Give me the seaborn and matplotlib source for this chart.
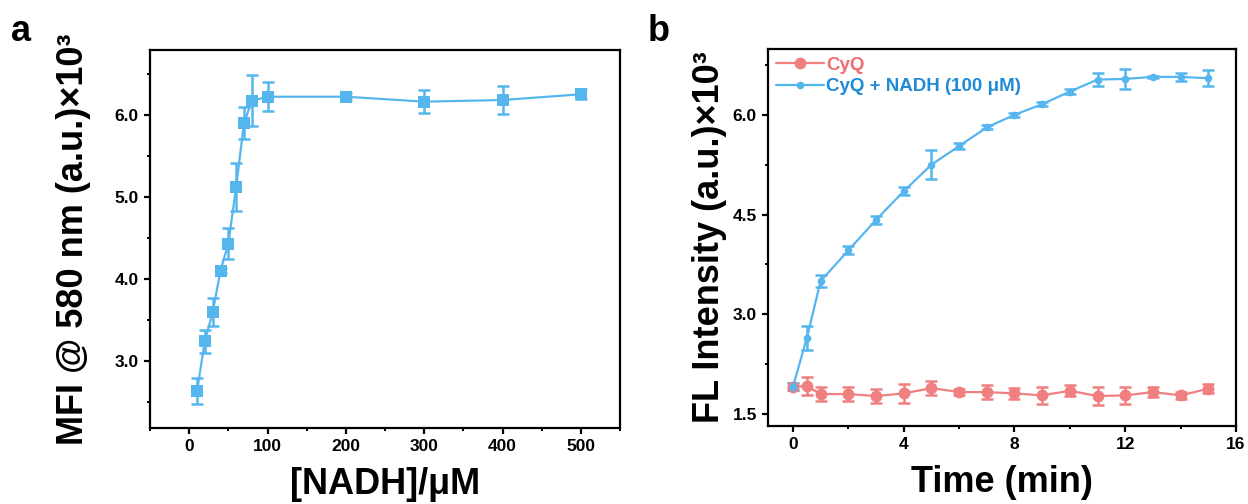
import numpy as np
import pandas as pd
import matplotlib
matplotlib.use("Agg")
import matplotlib.pyplot as plt
from matplotlib.ticker import MultipleLocator, FormatStrFormatter
import seaborn as sns

# Panel a: MFI vs NADH concentration
nadh_conc = [10, 20, 30, 40, 50, 60, 70, 80, 100, 200, 300, 400, 500]
mfi_mean = [2.63, 3.24, 3.59, 4.10, 4.43, 5.12, 5.90, 6.17, 6.22, 6.22, 6.16, 6.18, 6.25]
mfi_err = [0.16, 0.14, 0.17, 0.03, 0.19, 0.29, 0.20, 0.31, 0.18, 0.04, 0.14, 0.17, 0.06]

# Panel b: fluorescence kinetics
time_min = [0, 0.5, 1, 2, 3, 4, 5, 6, 7, 8, 9, 10, 11, 12, 13, 14, 15]
cyq_mean = [1.91, 1.92, 1.80, 1.80, 1.77, 1.81, 1.89, 1.83, 1.83, 1.81, 1.78,
            1.85, 1.77, 1.78, 1.83, 1.78, 1.88]
cyq_err = [0.05, 0.14, 0.10, 0.10, 0.10, 0.14, 0.11, 0.05, 0.10, 0.08, 0.13,
           0.08, 0.13, 0.13, 0.07, 0.05, 0.07]
nadh_mean = [1.91, 2.64, 3.50, 3.96, 4.42, 4.85, 5.25, 5.53, 5.81, 6.00, 6.16,
             6.35, 6.53, 6.54, 6.57, 6.57, 6.55]
nadh_err = [0.05, 0.18, 0.09, 0.06, 0.06, 0.06, 0.22, 0.04, 0.03, 0.03, 0.03,
            0.04, 0.10, 0.15, 0.02, 0.06, 0.12]
series_labels = ["CyQ", "CyQ + NADH (100 μM)"]

BLUE = "#55b6ee"
BLUE_TEXT = "#1f8ad6"
PINK = "#f08080"
PINK_TEXT = "#ee6e6e"

sns.set_theme(style="ticks")
plt.rcParams["font.family"] = ["Liberation Sans", "DejaVu Sans"]
plt.rcParams.update({
    "font.weight": "bold",
    "axes.labelweight": "bold",
    "text.color": "black",
    "axes.labelcolor": "black",
    "axes.edgecolor": "black",
    "axes.linewidth": 1.6,
    "xtick.color": "black",
    "ytick.color": "black",
    "xtick.major.width": 1.6,
    "ytick.major.width": 1.6,
    "xtick.minor.width": 1.4,
    "ytick.minor.width": 1.4,
    "xtick.major.size": 4.5,
    "ytick.major.size": 4.5,
    "xtick.minor.size": 2.5,
    "ytick.minor.size": 2.5,
    "xtick.direction": "out",
    "ytick.direction": "out",
})

fig = plt.figure(figsize=(12.48, 5.04), dpi=100)
ax_a = fig.add_axes([0.1202, 0.1508, 0.3766, 0.7500])
ax_b = fig.add_axes([0.6154, 0.1548, 0.3750, 0.7480])

df_a = pd.DataFrame({"conc": nadh_conc, "mfi": mfi_mean, "err": mfi_err})
df_cyq = pd.DataFrame({"time": time_min, "fl": cyq_mean, "err": cyq_err})
df_nadh = pd.DataFrame({"time": time_min, "fl": nadh_mean, "err": nadh_err})

# ---- panel a ----
ax_a.errorbar(df_a["conc"], df_a["mfi"], yerr=df_a["err"], fmt="none",
              ecolor=BLUE, elinewidth=1.8, capsize=4, capthick=1.8, zorder=2)
sns.lineplot(data=df_a, x="conc", y="mfi", ax=ax_a, color=BLUE, linewidth=1.6,
             marker="s", markersize=8, markeredgewidth=0, zorder=3)
ax_a.set_xlim(-50, 550)
ax_a.set_ylim(2.18, 6.79)
ax_a.xaxis.set_major_locator(MultipleLocator(100))
ax_a.xaxis.set_minor_locator(MultipleLocator(50))
ax_a.yaxis.set_major_locator(MultipleLocator(1.0))
ax_a.yaxis.set_minor_locator(MultipleLocator(0.5))
ax_a.yaxis.set_major_formatter(FormatStrFormatter("%.1f"))
ax_a.set_xlabel("[NADH]/μM", fontsize=26, fontweight="bold", labelpad=9)
ax_a.set_ylabel("MFI @ 580 nm (a.u.)×10³", fontsize=26, fontweight="bold", labelpad=17)

# ---- panel b ----
for df, col, ms, lab in [(df_cyq, PINK, 8.5, series_labels[0]),
                         (df_nadh, BLUE, 5.5, series_labels[1])]:
    ax_b.errorbar(df["time"], df["fl"], yerr=df["err"], fmt="none",
                  ecolor=col, elinewidth=1.8, capsize=4, capthick=1.8, zorder=2)
    sns.lineplot(data=df, x="time", y="fl", ax=ax_b, color=col, linewidth=1.6,
                 marker="o", markersize=ms, markeredgewidth=0, label=lab,
                 zorder=3)
ax_b.set_xlim(-0.9, 16)
ax_b.set_ylim(1.32, 6.99)
ax_b.xaxis.set_major_locator(MultipleLocator(4))
ax_b.xaxis.set_minor_locator(MultipleLocator(2))
ax_b.yaxis.set_major_locator(MultipleLocator(1.5))
ax_b.yaxis.set_minor_locator(MultipleLocator(0.75))
ax_b.yaxis.set_major_formatter(FormatStrFormatter("%.1f"))
ax_b.set_xlabel("Time (min)", fontsize=26, fontweight="bold", labelpad=9)
ax_b.set_ylabel("FL Intensity (a.u.)×10³", fontsize=26, fontweight="bold", labelpad=4)

leg = ax_b.legend(loc="upper left", frameon=False,
                  prop={"size": 13.5, "weight": "bold"}, handlelength=2.6,
                  handletextpad=0.1, borderaxespad=0.2, labelspacing=0.25,
                  borderpad=0.2)
for txt, col in zip(leg.get_texts(), [PINK_TEXT, BLUE_TEXT]):
    txt.set_color(col)

for ax in (ax_a, ax_b):
    ax.tick_params(axis="both", which="both", top=False, right=False)
    for lab in ax.get_xticklabels() + ax.get_yticklabels():
        lab.set_fontsize(12.5)
        lab.set_fontweight("bold")
    for sp in ax.spines.values():
        sp.set_visible(True)
        sp.set_linewidth(1.6)

fig.text(0.009, 0.918, "a", fontsize=26, fontweight="bold")
fig.text(0.519, 0.918, "b", fontsize=26, fontweight="bold")

fig.savefig("out.png", dpi=100)
